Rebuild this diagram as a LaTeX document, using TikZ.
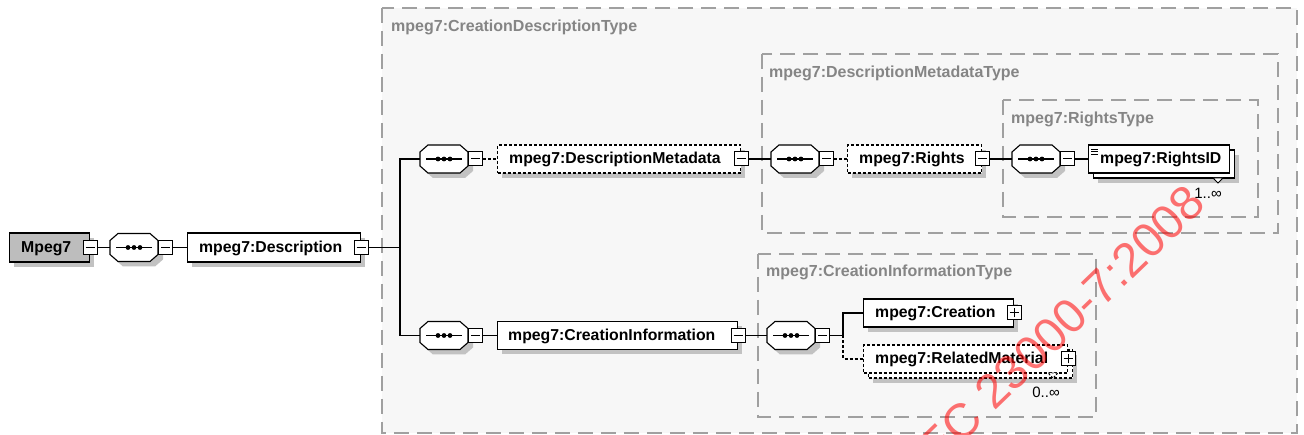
\documentclass[tikz,border=0pt]{standalone}
\usepackage{fontspec}
\setmainfont{Liberation Sans}
\usetikzlibrary{calc}
\definecolor{bgfill}{HTML}{F7F7F7}
\definecolor{grpline}{HTML}{A0A0A0}
\definecolor{grptext}{HTML}{858585}
\definecolor{shad}{HTML}{C2C2C2}
\definecolor{rootfill}{HTML}{BDBDBD}
\newcommand\SeqShape[3]{%
  \node[seqbox] (#1) at (#2,#3) {};
  \fill[shad,shift={(#2+5,#3+5)}] (-16,-14) -- (16,-14) -- (24,-7) -- (24,7) -- (16,14) -- (-16,14) -- (-24,7) -- (-24,-7) -- cycle;
  \draw[fill=white,line width=1.1pt,shift={(#2,#3)}] (-16,-14) -- (16,-14) -- (24,-7) -- (24,7) -- (16,14) -- (-16,14) -- (-24,7) -- (-24,-7) -- cycle;
  \draw[line width=1.2pt,shift={(#2,#3)}] (-18,0) -- (18,0);
  \fill[shift={(#2,#3)}] (-6,0) circle (2.4pt) (0,0) circle (2.4pt) (6,0) circle (2.4pt);
  \node[expbox,anchor=west] (#1-x) at (#1.east) {};
  \draw[line width=1pt] ([xshift=3pt]#1-x.west) -- ([xshift=-3pt]#1-x.east);
}
\newcommand\MinusSign[1]{\draw[line width=1pt] ([xshift=3pt]#1.west) -- ([xshift=-3pt]#1.east);}
\newcommand\PlusSign[1]{\draw[line width=1pt] ([xshift=3pt]#1.west) -- ([xshift=-3pt]#1.east) ([yshift=3pt]#1.south) -- ([yshift=-3pt]#1.north);}
\begin{document}
\begin{tikzpicture}[x=1pt,y=-1pt,
  grp/.style={draw=grpline, fill=bgfill, line width=1.3pt, dash pattern=on 15pt off 8pt},
  grplabel/.style={anchor=base west, text=grptext, font=\fontsize{16}{18}\selectfont\bfseries, inner sep=0pt},
  box/.style={draw=black, fill=white, line width=1.1pt, inner sep=0pt, minimum height=28pt, anchor=west},
  optbox/.style={box, dash pattern=on 3pt off 2pt},
  etext/.style={anchor=base west, font=\fontsize{15.8}{18}\selectfont\bfseries, inner sep=0pt},
  expbox/.style={draw=black, fill=white, line width=1pt, inner sep=0pt, minimum size=14pt},
  seqbox/.style={inner sep=0pt, minimum width=48pt, minimum height=28pt},
  conn/.style={draw=black, line width=1.1pt},
  optconn/.style={conn, dash pattern=on 3pt off 2pt},
  occ/.style={font=\fontsize{15}{17}\selectfont, inner sep=0pt}
]
\useasboundingbox (0,0) rectangle (1304,435);
\fill[white] (0,0) rectangle (1304,435);

% type groups
\draw[grp] (382,8) rectangle (1297,433);
\node[grplabel] (g1-l) at (391,32) {mpeg7:CreationDescriptionType};
\draw[grp] (762,54) rectangle (1278,233);
\node[grplabel] (g2-l) at (769,78) {mpeg7:DescriptionMetadataType};
\draw[grp] (1003,100) rectangle (1258,217);
\node[grplabel] (g3-l) at (1011,124) {mpeg7:RightsType};
\draw[grp] (758,254) rectangle (1096,417);
\node[grplabel] (g4-l) at (766,277) {mpeg7:CreationInformationType};

% root
\fill[shad] (14,238) rectangle (94,267);
\node[box, fill=rootfill, minimum width=80pt, minimum height=29pt] (root) at (9,247.5) {};
\node[etext] (root-t) at (21,252.5) {Mpeg7};
\node[expbox] (root-x) at (root.east) {};
\MinusSign{root-x}

\SeqShape{seq0}{134}{247.5}

% description
\fill[shad] (192,238) rectangle (365,267);
\node[box, minimum width=173pt, minimum height=29pt] (desc) at (187,247.5) {};
\node[etext] (desc-t) at (199,252.5) {mpeg7:Description};
\node[expbox] (desc-x) at (desc.east) {};
\MinusSign{desc-x}

% top row
\SeqShape{seqA}{444}{159}
\fill[shad] (502,150) rectangle (745,178);
\node[optbox, minimum width=243pt] (dmeta) at (497,159) {};
\node[etext] (dmeta-t) at (509,164) {mpeg7:DescriptionMetadata};
\node[expbox] (dmeta-x) at (dmeta.east) {};
\MinusSign{dmeta-x}

\SeqShape{seqB}{795}{159}
\fill[shad] (852,150) rectangle (986,178);
\node[optbox, minimum width=134pt] (rights) at (847,159) {};
\node[etext] (rights-t) at (859,164) {mpeg7:Rights};
\node[expbox] (rights-x) at (rights.east) {};
\MinusSign{rights-x}

\SeqShape{seqR}{1036}{159}
\fill[shad] (1098,155) rectangle (1239,183);
\node[box, minimum width=141pt] (ridback) at (1093,164) {};
\node[box, minimum width=141pt] (rid) at (1088,159) {};
\draw[line width=0.8pt] (1091,149) -- (1098,149) (1091,151.5) -- (1098,151.5) (1091,154) -- (1098,154);
\node[etext] (rid-t) at (1100,164) {mpeg7:RightsID};
\draw[fill=white, line width=0.9pt] (1213,178) -- (1223,178) -- (1218,183) -- cycle;
\node[occ] (rid-o) at (1208,193) {1..∞};

% bottom row
\SeqShape{seqC}{444}{335.5}
\fill[shad] (502,326.5) rectangle (742,354.5);
\node[box, minimum width=240pt] (cinfo) at (497,335.5) {};
\node[etext] (cinfo-t) at (508,340.5) {mpeg7:CreationInformation};
\node[expbox] (cinfo-x) at (cinfo.east) {};
\MinusSign{cinfo-x}

\SeqShape{seqD}{791}{335.5}

\fill[shad] (868,304) rectangle (1018,332);
\node[box, minimum width=150pt] (crea) at (863,313) {};
\node[etext] (crea-t) at (875,318) {mpeg7:Creation};
\node[expbox] (crea-x) at (crea.east) {};
\PlusSign{crea-x}

\fill[shad] (873,355) rectangle (1077,383);
\node[optbox, minimum width=204pt] (relback) at (868,364) {};
\node[optbox, minimum width=204pt] (relm) at (863,359) {};
\node[etext] (relm-t) at (875,364) {mpeg7:RelatedMaterial};
\node[expbox] (relm-x) at (relm.east) {};
\PlusSign{relm-x}
\draw[fill=white, line width=0.9pt, dash pattern=on 2pt off 1.5pt] (1048,373) -- (1058,373) -- (1053,378) -- cycle;
\node[occ] (relm-o) at (1046,392) {0..∞};

% connectors
\draw[conn] (root-x.east) -- (seq0.west);
\draw[conn] (seq0-x.east) -- (desc.west);
\coordinate (br1) at (400,247.5);
\draw[conn] (desc-x.east) -- (br1);
\draw[conn] (br1) |- (seqA.west);
\draw[conn] (br1) |- (seqC.west);
\draw[optconn] (seqA-x.east) -- (dmeta.west);
\draw[conn] (dmeta-x.east) -- (seqB.west);
\draw[optconn] (seqB-x.east) -- (rights.west);
\draw[conn] (rights-x.east) -- (seqR.west);
\draw[conn] (seqR-x.east) -- (rid.west);
\draw[conn] (seqC-x.east) -- (cinfo.west);
\draw[conn] (cinfo-x.east) -- (seqD.west);
\coordinate (br2) at (843,335.5);
\draw[conn] (seqD-x.east) -- (br2);
\draw[conn] (br2) |- (crea.west);
\draw[optconn] (br2) |- (relm.west);

% watermark
\node[rotate=44, anchor=base east, text=red, opacity=0.55, font=\fontsize{48}{50}\selectfont, inner sep=0pt] (wm) at (1208,206) {ISO/IEC 23000-7:2008};
\end{tikzpicture}
\end{document}
